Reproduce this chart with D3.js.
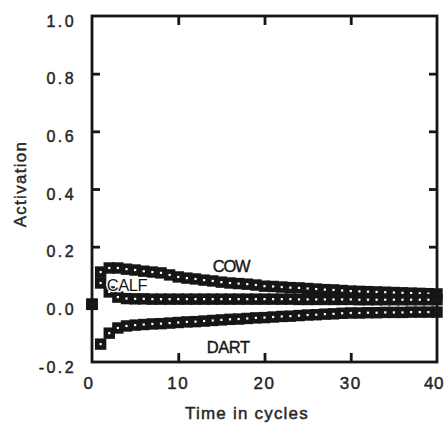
<!DOCTYPE html>
<html>
<head>
<meta charset="utf-8">
<script src="https://cdn.jsdelivr.net/npm/d3@7"></script>
<style>
  html, body { margin: 0; padding: 0; background: #fff; }
  svg { display: block; font-family: "Liberation Sans", Arial, Helvetica, sans-serif; }
</style>
</head>
<body>
<svg id="chart" width="446" height="424"></svg>
<script>
// ---- data ----
const cycles = d3.range(0, 41);
const cowValues = [0.00, 0.112, 0.126, 0.126, 0.122, 0.119, 0.115, 0.112, 0.109, 0.102,
  0.095, 0.091, 0.088, 0.084, 0.081, 0.077, 0.074, 0.072, 0.070, 0.067,
  0.063, 0.062, 0.060, 0.058, 0.057, 0.055, 0.053, 0.051, 0.050, 0.048,
  0.046, 0.045, 0.044, 0.043, 0.042, 0.041, 0.040, 0.039, 0.038, 0.037, 0.036];
const calfValues = [0.00, 0.074, 0.043, 0.025, 0.020, 0.019, 0.019, 0.018, 0.018, 0.018,
  0.018, 0.018, 0.018, 0.018, 0.018, 0.018, 0.018, 0.018, 0.018, 0.018,
  0.018, 0.018, 0.018, 0.018, 0.017, 0.017, 0.017, 0.017, 0.017, 0.017,
  0.017, 0.016, 0.016, 0.016, 0.016, 0.016, 0.016, 0.016, 0.016, 0.016, 0.016];
const dartValues = [0.00, -0.138, -0.100, -0.082, -0.075, -0.072, -0.070, -0.068, -0.067, -0.065,
  -0.063, -0.061, -0.060, -0.058, -0.056, -0.054, -0.052, -0.051, -0.049, -0.047,
  -0.046, -0.044, -0.042, -0.041, -0.039, -0.037, -0.036, -0.034, -0.033, -0.031,
  -0.030, -0.030, -0.029, -0.029, -0.028, -0.028, -0.028, -0.027, -0.027, -0.027, -0.027];
const seriesNames = ["COW", "CALF", "DART"];
const xTicks = [0, 10, 20, 30, 40];
const yTicks = [-0.2, 0.0, 0.2, 0.4, 0.6, 0.8, 1.0];
const labelAnchors = [ // [series, cycle, value] where word labels sit
  ["COW", 14.0, 0.133],
  ["CALF", 1.7, 0.068],
  ["DART", 13.3, -0.148]
];

// ---- layout ----
const svg = d3.select("#chart");
const plot = { left: 92, right: 437, top: 16, bottom: 362 };
const x = d3.scaleLinear().domain([0, 40]).range([plot.left, plot.right]);
const y = d3.scaleLinear().domain([-0.2, 1.0]).range([plot.bottom, plot.top]);
const ink = "#161616";
const textInk = "#262626";

const series = [
  { name: "COW", values: cowValues },
  { name: "CALF", values: calfValues },
  { name: "DART", values: dartValues }
];

// markers: heavy hollow squares
series.forEach(s => {
  svg.append("g").selectAll("rect")
    .data(cycles.map((t, i) => ({ t, v: s.values[i] })))
    .join("rect")
    .attr("x", d => x(d.t) - 3.4)
    .attr("y", d => y(d.v) - 3.4)
    .attr("width", 6.8)
    .attr("height", 6.8)
    .attr("fill", "#fff")
    .attr("stroke", ink)
    .attr("stroke-width", 4.6);
});

// frame
svg.append("rect")
  .attr("x", plot.left).attr("y", plot.top)
  .attr("width", plot.right - plot.left).attr("height", plot.bottom - plot.top)
  .attr("fill", "none").attr("stroke", ink).attr("stroke-width", 2.8);

// axes (inward ticks)
const innerX = xTicks.filter(v => v > 0 && v < 40);
const innerY = yTicks.filter(v => v > 0 && v < 1.0);
function styleAxis(g) {
  g.select(".domain").remove();
  g.selectAll(".tick line").attr("stroke", ink).attr("stroke-width", 2.8);
  g.selectAll(".tick text").remove();
}
svg.append("g").attr("transform", `translate(0,${plot.bottom})`)
  .call(d3.axisBottom(x).tickValues(innerX).tickSize(-9)).call(styleAxis);
svg.append("g").attr("transform", `translate(0,${plot.top})`)
  .call(d3.axisTop(x).tickValues(innerX).tickSize(-9)).call(styleAxis);
svg.append("g").attr("transform", `translate(${plot.left},0)`)
  .call(d3.axisLeft(y).tickValues(innerY).tickSize(-8)).call(styleAxis);
svg.append("g").attr("transform", `translate(${plot.right},0)`)
  .call(d3.axisRight(y).tickValues(innerY).tickSize(-8)).call(styleAxis);

function heavy(sel) {
  sel.attr("fill", textInk).attr("stroke", textInk).attr("stroke-width", 0.45);
}

// tick labels
svg.append("g").selectAll("text")
  .data(yTicks).join("text")
  .attr("x", 76)
  .attr("y", d => y(d) + 5)
  .attr("dy", "0.35em")
  .attr("text-anchor", "end")
  .attr("font-size", 16)
  .attr("letter-spacing", "2.4px")
  .call(heavy)
  .text(d => (d < 0 ? "-" : "") + d3.format(".1f")(Math.abs(d)));

svg.append("g").selectAll("text")
  .data(xTicks).join("text")
  .attr("x", d => x(d) - (d === 0 ? 3 : 0) - (d === 40 ? 3 : 0))
  .attr("y", 383)
  .attr("dy", "0.35em")
  .attr("text-anchor", "middle")
  .attr("font-size", 17)
  .attr("letter-spacing", d => d === 40 ? "0.5px" : "1.5px")
  .call(heavy)
  .text(d => d);

// axis titles
svg.append("text")
  .attr("transform", `translate(20,${184}) rotate(-90)`)
  .attr("text-anchor", "middle")
  .attr("dy", "0.35em")
  .attr("font-size", 17)
  .attr("letter-spacing", "1.3px")
  .call(heavy)
  .text("Activation");

svg.append("text")
  .attr("x", 247).attr("y", 413)
  .attr("dy", "0.35em")
  .attr("text-anchor", "middle")
  .attr("font-size", 17)
  .attr("letter-spacing", "1.2px")
  .call(heavy)
  .text("Time in cycles");

// word labels
svg.append("g").selectAll("text")
  .data(labelAnchors).join("text")
  .attr("x", d => x(d[1]))
  .attr("y", d => y(d[2]))
  .attr("dy", "0.35em")
  .attr("text-anchor", "start")
  .attr("font-size", 16.5)
  .attr("letter-spacing", d => d[0] === "COW" ? "-1.2px" : "-0.4px")
  .attr("fill", ink)
  .attr("stroke", d => d[0] === "CALF" ? "#fff" : ink)
  .attr("stroke-width", d => d[0] === "CALF" ? 2.5 : 0.4)
  .attr("paint-order", "stroke")
  .text(d => d[0]);
</script>
</body>
</html>
